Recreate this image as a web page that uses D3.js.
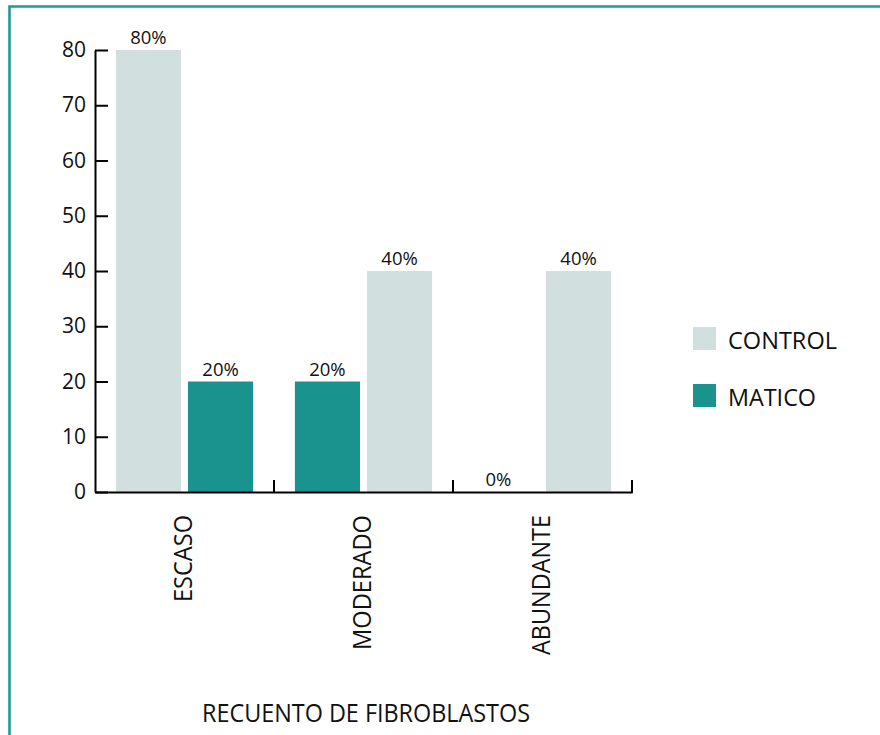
<!DOCTYPE html>
<html>
<head>
<meta charset="utf-8">
<script src="https://cdn.jsdelivr.net/npm/d3@7"></script>
<style>
  html, body { margin: 0; padding: 0; background: #fff; }
  svg { display: block; font-family: "Open Sans", "Noto Sans", sans-serif; }
</style>
</head>
<body>
<svg id="chart" width="880" height="735"></svg>
<script>
// Fibroblast count by group (percent of samples)
const categories = ["ESCASO", "MODERADO", "ABUNDANTE"];
const controlValues = [80, 40, 40];
const maticoValues = [20, 20, 0];
// left-to-right order of the two bars inside each category
const barOrder = [["CONTROL", "MATICO"], ["MATICO", "CONTROL"], ["MATICO", "CONTROL"]];
const seriesNames = ["CONTROL", "MATICO"];
const seriesColors = ["#d1dfdf", "#1a938f"];
const yTicks = [0, 10, 20, 30, 40, 50, 60, 70, 80];
const xTitle = "RECUENTO DE FIBROBLASTOS";

const svg = d3.select("#chart");
const colorOf = d3.scaleOrdinal().domain(seriesNames).range(seriesColors);
const valuesOf = { CONTROL: controlValues, MATICO: maticoValues };

// frame
svg.append("path")
  .attr("d", "M9.5,740 V6.5 H890")
  .attr("fill", "none")
  .attr("stroke", "#1f9b93")
  .attr("stroke-width", 2.6);

const x = d3.scaleBand().domain(categories).range([95, 632]).padding(0);
const slot = d3.scaleBand().domain([0, 1]).range([0, x.bandwidth()])
  .paddingInner(0.097).paddingOuter(0.29);
const y = d3.scaleLinear().domain([0, 80]).range([492, 50]);

const bars = [];
categories.forEach((c, i) => {
  barOrder[i].forEach((s, j) => {
    bars.push({ cat: c, series: s, slot: j, value: valuesOf[s][i] });
  });
});

svg.append("g").selectAll("rect")
  .data(bars.filter(d => d.value > 0))
  .join("rect")
  .attr("x", d => x(d.cat) + slot(d.slot))
  .attr("y", d => y(d.value))
  .attr("width", slot.bandwidth())
  .attr("height", d => y(0) - y(d.value))
  .attr("fill", d => colorOf(d.series));

svg.append("g").selectAll("text")
  .data(bars)
  .join("text")
  .attr("x", d => x(d.cat) + slot(d.slot) + slot.bandwidth() / 2 - (d.value === 0 ? 8 : 0))
  .attr("y", d => y(d.value) - 6)
  .attr("text-anchor", "middle")
  .attr("font-size", 18.5)
  .attr("fill", "#111")
  .text(d => d.value + "%");

// y axis
const yAxis = svg.append("g")
  .attr("transform", "translate(95,0)")
  .call(d3.axisLeft(y).tickValues(yTicks).tickSizeInner(-13).tickSizeOuter(0).tickPadding(9));
yAxis.selectAll("path, line").attr("stroke", "#000").attr("stroke-width", 2);
yAxis.selectAll("text").attr("font-size", 21).attr("fill", "#111")
  .attr("font-family", "'Open Sans', sans-serif");

// x axis: baseline with upward ticks at the category boundaries
const xAxis = svg.append("g")
  .attr("transform", "translate(0,492)")
  .call(d3.axisBottom(x).tickSize(0).tickSizeOuter(0).tickFormat(""));
xAxis.select(".domain").attr("stroke", "#000").attr("stroke-width", 2);
xAxis.selectAll(".tick").remove();
xAxis.selectAll("line.boundary")
  .data(categories)
  .join("line")
  .attr("class", "boundary")
  .attr("x1", d => x(d) + x.bandwidth())
  .attr("x2", d => x(d) + x.bandwidth())
  .attr("y1", 1)
  .attr("y2", -12)
  .attr("stroke", "#000")
  .attr("stroke-width", 2);

// category labels, rotated
const catLen = { ESCASO: 87, MODERADO: 135, ABUNDANTE: 140 };
svg.append("g").selectAll("text")
  .data(categories)
  .join("text")
  .attr("transform", d => `translate(${x(d) + x.bandwidth() / 2 + 7},515) rotate(-90)`)
  .attr("text-anchor", "end")
  .attr("font-size", 26)
  .attr("fill", "#111")
  .attr("textLength", d => catLen[d])
  .attr("lengthAdjust", "spacingAndGlyphs")
  .text(d => d);

// axis title
svg.append("text")
  .attr("x", 202)
  .attr("y", 722)
  .attr("font-size", 26)
  .attr("fill", "#111")
  .attr("textLength", 328)
  .attr("lengthAdjust", "spacingAndGlyphs")
  .text(xTitle);

// legend
const legend = svg.append("g").selectAll("g")
  .data(seriesNames)
  .join("g")
  .attr("transform", (d, i) => `translate(693,${327 + i * 57})`);
legend.append("rect")
  .attr("width", 23).attr("height", 23)
  .attr("fill", d => colorOf(d));
legend.append("text")
  .attr("x", 35).attr("y", 22)
  .attr("font-size", 24)
  .attr("fill", "#111")
  .attr("textLength", d => d === "CONTROL" ? 109 : 88)
  .attr("lengthAdjust", "spacingAndGlyphs")
  .text(d => d);
</script>
</body>
</html>
